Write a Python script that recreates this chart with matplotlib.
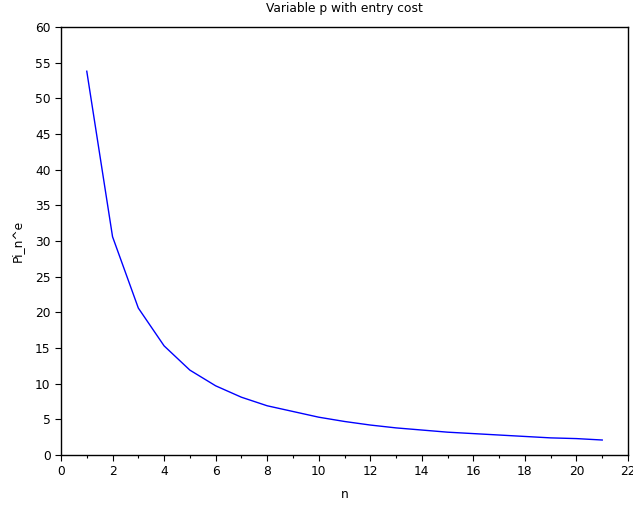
import matplotlib
matplotlib.use("Agg")
import matplotlib.pyplot as plt

# data
n = list(range(1, 22))
pi_e = [53.8, 30.6, 20.6, 15.3, 11.9, 9.7, 8.1, 6.9, 6.1, 5.3, 4.7,
        4.2, 3.8, 3.5, 3.2, 3.0, 2.8, 2.6, 2.4, 2.3, 2.1]
xticks = list(range(0, 23, 2))
xminor = list(range(1, 22, 2))
yticks = list(range(0, 61, 5))

plt.rcParams['font.family'] = 'DejaVu Sans'
plt.rcParams['font.size'] = 8.8

fig = plt.figure(figsize=(6.33, 5.08), dpi=100)
ax = fig.add_axes([61/633, 53/508, 567/633, 428/508])

ax.plot(n, pi_e, color='#0000ff', lw=1.0)

ax.set_xlim(0, 22)
ax.set_ylim(0, 60)
ax.set_xticks(xticks)
ax.set_xticks(xminor, minor=True)
ax.set_yticks(yticks)
ax.tick_params(direction='out', length=4, width=0.8, top=False, right=False)
ax.tick_params(which='minor', direction='out', length=2.5, width=0.8)
for s in ax.spines.values():
    s.set_linewidth(1.0)

ax.set_title('Variable p with entry cost', fontsize=8.8, pad=11)
ax.set_xlabel('n', labelpad=7)
ax.set_ylabel('Pi_n^e', labelpad=8)

fig.savefig('out.png', dpi=100)
